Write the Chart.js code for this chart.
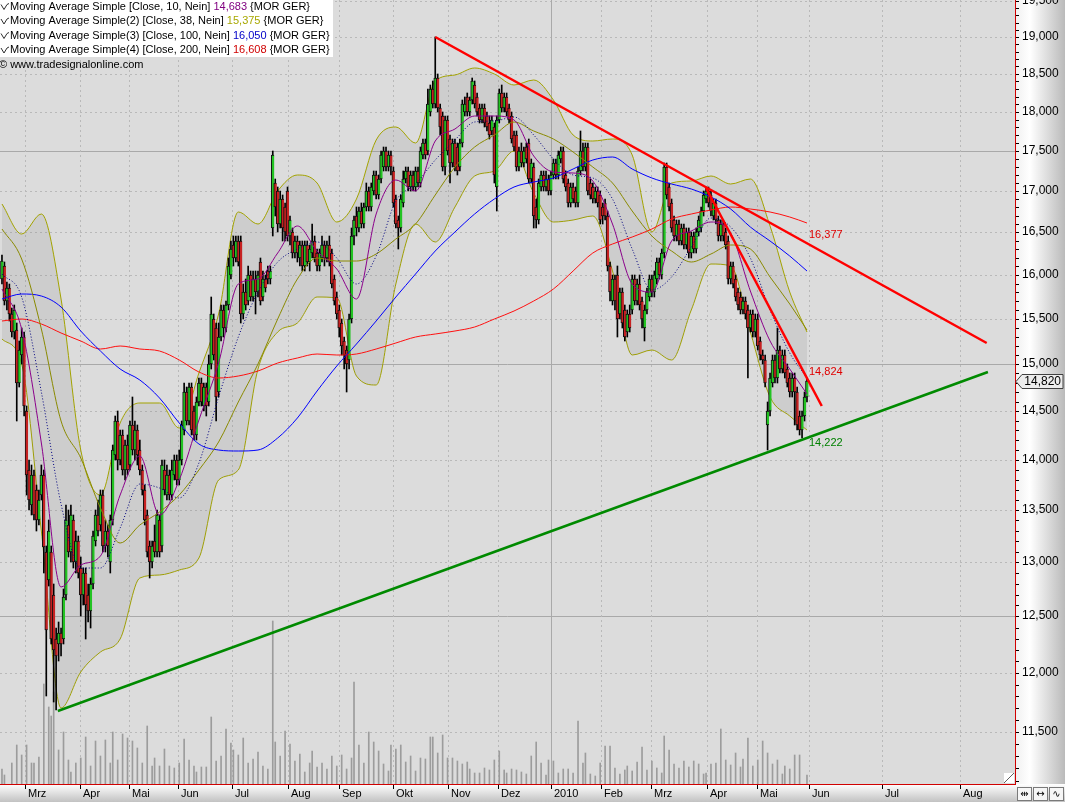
<!DOCTYPE html>
<html><head><meta charset="utf-8">
<script src="https://cdn.jsdelivr.net/npm/chart.js@4.4.1/dist/chart.umd.min.js"></script>
<style>html,body{margin:0;padding:0;background:#fff;}canvas{display:block;}</style>
</head><body>
<canvas id="c" width="1065" height="802" style="width:1065px;height:802px"></canvas>
<script>
// ---- daily candles (trading-day index 0..327) ----
const openP = [
15950,16100,15700,15850,15550,15350,15380,14800,15100,15300,
14500,13900,13550,13850,13700,13400,13650,13850,13100,12830,
13100,12700,12300,12250,12350,12300,12700,13350,13100,13400,
13000,13200,12950,12700,12900,12700,12550,12800,13200,13450,
13350,13650,13150,13300,13000,13400,14050,14400,14000,14250,
13900,14150,13950,14350,14100,14300,14100,13900,13700,13450,
13150,13000,13200,13100,13400,13150,13900,13650,13850,13650,
13850,14000,13800,14000,14300,14700,14400,14750,14500,14250,
14600,14800,14550,14750,14600,15000,15500,15400,14700,15300,
15600,15400,15650,16000,16350,16200,16400,16400,15550,15800,
15700,16000,15750,15950,15800,16150,15750,15950,16050,15950,
16550,17100,17000,16600,16900,16800,17000,16450,16500,16250,
16400,16200,16350,16100,16350,16150,16250,16400,16250,16100,
16200,16350,16200,16350,16250,15950,15750,15600,15450,15250,
15150,15050,15500,16450,16700,16550,16750,16600,16800,17000,
16800,17000,17200,16950,17150,17300,17500,17300,17450,17250,
16900,16650,16550,16850,17150,17250,17050,17200,17050,17250,
17100,17450,17600,17500,18000,18300,18100,18450,18050,17950,
17300,17900,17650,17350,17600,17550,17300,17600,18000,18200,
18000,18150,18350,18200,18050,17900,18050,17950,17850,17750,
17800,17050,17900,18250,18050,18200,18050,17950,17700,17700,
17300,17500,17350,17550,17600,17150,17300,16800,16650,17050,
17200,17050,17150,17000,17200,17350,17200,17400,17500,17200,
17100,16850,17050,17000,16850,17250,17500,17300,17550,17100,
17050,16900,17000,16950,16800,16850,16700,16100,15700,15950,
16000,15550,15800,15600,15350,15550,15600,15950,15700,15900,
15700,15400,15600,15750,15950,15800,15950,16150,16000,16250,
17300,17050,16850,16650,16450,16600,16400,16550,16350,16500,
16250,16450,16300,16500,16550,16750,16900,17000,16950,16700,
16850,16650,16450,16600,16500,16400,15950,16100,15950,15800,
15750,15600,15700,15600,15400,15550,15350,15500,15250,15100,
15050,14350,14500,14800,15050,14850,15150,14950,15100,14950,
14850,14700,14850,14700,14450,14300,14450,14650];
const highP = [
16230,16150,15920,15900,15620,15650,15450,15250,15400,15350,
14550,14000,13950,13900,13750,13700,13950,13900,13150,13400,
13150,12800,12400,12450,12400,12750,13550,13500,13550,13450,
13300,13250,13050,12950,12950,12800,12850,13300,13500,13600,
13700,13700,13400,13350,13450,14150,14450,14500,14300,14300,
14200,14250,14400,14650,14400,14350,14200,13950,13750,13500,
13200,13200,13350,13500,13450,14000,14000,13950,13900,14000,
14050,14050,14100,14400,14800,14750,14800,14800,14550,14650,
14850,14850,14800,14800,15100,15750,15550,15450,15450,15650,
15650,15700,16200,16400,16450,16450,16450,16450,15900,15950,
16100,16050,16050,16050,16050,16200,16050,16000,16100,16100,
17500,17150,17050,17000,16950,16850,17050,16700,16550,16450,
16450,16400,16400,16400,16400,16350,16600,16450,16300,16300,
16450,16400,16400,16450,16300,16000,15800,15650,15500,15300,
15200,15550,16550,16700,16800,16800,16850,16850,17100,17050,
17100,17250,17250,17200,17500,17550,17550,17500,17500,17300,
16950,16700,16950,17250,17300,17300,17250,17250,17300,17300,
17550,17650,17650,18300,18350,18400,19000,18500,18100,18000,
17950,17950,17700,17650,17650,17600,17650,18150,18200,18250,
18200,18450,18400,18250,18100,18100,18100,18000,17950,17950,
17850,17950,18300,18350,18250,18250,18100,18000,17750,17750,
17550,17600,17550,17600,17650,17400,17350,16900,17150,17250,
17250,17250,17200,17250,17400,17400,17500,17550,17550,17250,
17150,17100,17100,17050,17300,17750,17600,17600,17600,17150,
17100,17050,17050,17000,16850,16900,16750,16150,16000,16000,
16100,15850,15850,15650,15600,15650,16000,16000,15950,16000,
15750,15650,15850,16000,16000,16050,16200,16200,16300,17350,
17350,17100,16900,16700,16650,16650,16600,16600,16550,16550,
16500,16500,16550,16700,16800,17000,17050,17050,17000,16900,
16900,16700,16650,16650,16550,16450,16150,16150,16000,15850,
15800,15750,15750,15650,15600,15600,15550,15550,15300,15150,
15100,14600,14900,15100,15100,15400,15200,15150,15150,15000,
14900,14900,14900,14750,14500,14500,14700,14850];
const lowP = [
15900,15650,15600,15480,15300,15280,14400,14750,15000,14450,
13650,13500,13450,13400,13300,13350,13600,12900,11800,12780,
12250,11750,11680,12100,12150,12250,12650,13050,13000,12950,
12900,12850,12500,12600,12300,12450,12400,12750,13150,13250,
13300,13100,13100,13050,12900,13350,14000,13900,13950,13850,
13800,13850,13900,14050,14000,13950,13850,13650,13350,13050,
12850,12950,13050,13050,13050,13100,13650,13600,13600,13600,
13800,13750,13750,13950,14250,14350,14350,14250,14200,14200,
14550,14550,14500,14450,14550,14950,15050,14400,14650,15250,
15300,15350,15600,15950,16100,16150,16100,15450,15500,15600,
15650,15700,15700,15550,15750,15650,15700,15800,15900,15900,
16450,16700,16500,16550,16400,16400,16400,16350,16200,16200,
16150,16100,16050,16050,16100,16050,16200,16150,16050,16050,
16150,16100,16150,16100,15850,15650,15500,15300,15100,14950,
14700,14950,15450,16350,16450,16500,16550,16550,16750,16750,
16750,16950,16900,16900,17100,17250,17250,17250,17200,16800,
16550,16300,16500,16800,17100,17000,17000,17000,17000,17050,
17050,17400,17400,17450,17950,18050,18050,18000,17700,17250,
17200,17450,17100,17300,17250,17200,17250,17550,17950,17950,
17950,18100,18050,17950,17850,17850,17800,17750,17650,17700,
17100,16750,17850,18000,18000,17950,17850,17600,17500,17250,
17250,17300,17300,17350,17100,17100,16550,16550,16600,17000,
17000,17000,16950,16950,17150,17150,17150,17350,17100,17000,
16800,16800,16850,16800,16800,17200,17250,17250,16950,16900,
16850,16850,16800,16600,16600,16650,16050,15700,15650,15600,
15300,15500,15400,15250,15300,15350,15550,15650,15650,15600,
15400,15250,15550,15700,15750,15750,15900,15950,15950,16200,
16900,16750,16500,16400,16400,16350,16350,16300,16300,16200,
16200,16250,16250,16450,16500,16700,16850,16800,16700,16650,
16600,16400,16400,16400,16300,15900,15900,15850,15700,15600,
15550,15550,15500,14850,15350,15300,15300,15150,15050,15000,
14750,14100,14450,14750,14800,14800,14900,14900,14850,14750,
14650,14650,14350,14300,14250,14220,14400,14600];
const closeP = [
16160,15700,15850,15550,15350,15600,14800,15150,15300,14550,
13850,13600,13850,13450,13400,13600,13850,13140,12380,13300,
12300,12200,12150,12350,12250,12680,13400,13100,13450,13000,
13200,12900,12700,12900,12600,12550,12800,13250,13450,13300,
13650,13150,13300,13150,13400,14100,14400,14000,14250,13900,
14150,13900,14350,14100,14300,14050,13900,13700,13400,13100,
13000,13150,13100,13450,13100,13950,13700,13850,13650,13900,
14000,13800,14000,14350,14700,14400,14750,14300,14250,14600,
14800,14600,14750,14550,15000,15550,15100,14650,15300,15600,
15400,15650,16100,16300,16200,16400,16150,15550,15800,15650,
16000,15750,15950,15800,16000,15700,15950,15850,15950,16050,
17450,16800,16600,16900,16550,16500,16450,16650,16250,16400,
16250,16350,16100,16350,16150,16300,16400,16200,16100,16250,
16350,16200,16350,16150,15900,15700,15550,15400,15200,15100,
15000,15500,16450,16650,16550,16750,16600,16800,17000,16800,
17050,17200,16950,17150,17450,17500,17300,17450,17300,16850,
16600,16550,16900,17150,17250,17050,17200,17050,17250,17100,
17500,17600,17450,18100,18300,18100,18450,18050,17800,17300,
17900,17500,17350,17600,17300,17250,17600,18100,18100,18000,
18150,18400,18100,18000,17900,18050,17850,17800,17700,17900,
17200,17900,18250,18050,18200,18000,17900,17650,17550,17300,
17500,17350,17500,17400,17150,17350,16700,16650,17100,17200,
17050,17150,17000,17200,17350,17200,17450,17500,17150,17050,
16850,17050,16900,16850,17250,17500,17300,17550,17000,16950,
16900,17000,16850,16650,16700,16700,16100,15800,15950,15700,
15500,15800,15450,15300,15550,15400,15950,15700,15900,15650,
15500,15600,15800,15950,15800,16000,16150,16000,16250,17300,
16950,16800,16550,16450,16600,16400,16550,16350,16500,16250,
16450,16300,16500,16650,16750,16950,17000,16850,16750,16850,
16650,16450,16600,16450,16350,15950,16100,15900,15750,15650,
15600,15700,15550,15400,15550,15350,15500,15200,15100,15050,
14800,14500,14850,15050,14850,15150,14950,15100,14900,14800,
14700,14850,14700,14350,14300,14450,14650,14820];

// ---- volume bars visible in the picture: [trading-day index, volume (thousands)] ----
const volume = [[0,150],[1,90],[4,210],[6,390],[8,290],[10,390],[12,210],[13,210],[15,270],[17,1000],[19,770],[20,680],[21,920],[23,340],[25,520],[27,240],[28,120],[30,210],[32,260],[34,470],[36,180],[38,430],[40,280],[42,440],[44,210],[45,520],[47,240],[49,500],[51,460],[53,430],[55,360],[57,210],[59,580],[61,180],[62,260],[64,180],[66,350],[68,180],[70,160],[72,210],[74,450],[76,240],[78,180],[79,120],[81,170],[83,170],[85,670],[87,230],[89,280],[91,550],[93,410],[94,340],[96,290],[98,460],[100,210],[102,250],[104,320],[106,180],[108,150],[110,1630],[111,420],[113,280],[115,530],[117,400],[119,230],[121,300],[123,120],[125,210],[126,330],[128,170],[130,210],[132,150],[134,280],[136,180],[138,290],[140,150],[142,260],[143,1020],[145,390],[147,210],[149,520],[151,420],[153,330],[155,200],[157,130],[158,390],[160,350],[162,390],[164,220],[166,280],[168,130],[170,260],[172,250],[174,470],[175,470],[177,310],[179,490],[181,260],[183,260],[185,230],[187,200],[189,220],[190,150],[192,110],[194,110],[196,160],[198,140],[200,240],[202,330],[204,140],[205,110],[207,150],[209,140],[211,120],[213,100],[215,280],[217,420],[219,210],[221,90],[222,240],[224,230],[226,110],[228,150],[230,150],[232,110],[234,630],[236,210],[237,310],[239,100],[241,80],[243,210],[245,380],[247,380],[249,160],[251,100],[253,140],[254,180],[256,130],[258,220],[260,370],[262,140],[264,230],[266,160],[268,110],[269,480],[271,340],[273,200],[275,160],[277,230],[279,170],[281,230],[283,200],[285,100],[286,110],[288,200],[290,210],[292,550],[294,240],[296,190],[298,310],[300,170],[301,250],[303,460],[305,180],[307,240],[309,430],[311,310],[313,200],[315,240],[317,100],[318,180],[320,150],[322,290],[324,290],[327,90]];

// ---- indicator lines, read every 8 trading days ----
const maIdx = [0,8,16,24,32,40,48,56,64,72,80,88,96,104,112,120,128,136,144,152,160,168,176,184,192,200,208,216,224,232,240,248,256,264,272,280,288,296,304,312,320,327];
const ma10 = [15840,15390,14170,12765,12975,13060,13645,14040,13455,13800,14405,15010,15900,15950,16250,16580,16280,16070,15725,16720,17130,16995,17630,17780,17950,17940,17900,17430,17230,17220,17120,16600,15895,15800,16400,16520,16620,16490,15820,15250,14950,14683];
const ma38 = [16540,16180,15390,14400,14016,13520,13185,13350,13480,13650,13900,14180,14600,15000,15500,15950,16200,16160,16160,16240,16420,16600,16950,17300,17550,17700,17870,17750,17650,17480,17300,17100,16750,16450,16280,16150,16240,16350,16300,15980,15670,15375];
const ma100 = [15725,15780,15760,15635,15360,15140,14950,14825,14635,14375,14160,14100,14090,14100,14220,14425,14710,14975,15225,15480,15750,16010,16280,16500,16720,16900,17050,17110,17160,17270,17380,17420,17270,17160,17080,17020,16920,16780,16560,16400,16220,16050];
const ma200 = [15480,15500,15445,15345,15250,15170,15200,15170,15140,15040,14910,14846,14870,14925,15010,15070,15115,15105,15115,15170,15235,15300,15335,15360,15410,15500,15590,15700,15840,16045,16255,16360,16440,16540,16655,16715,16765,16800,16775,16740,16680,16608];
const bandMid = [16010,15750,14700,13560,12950,12950,13330,13760,13720,13620,13970,14650,15300,15800,16150,16300,16390,16200,15900,16215,16880,17080,17390,17640,17870,17880,17930,17700,17400,17200,17160,16900,16300,15830,15980,16320,16670,16560,16200,15600,15120,14850];
const bandUpper = [16837,16480,16720,15725,14100,13645,14375,14580,14580,14320,14900,15550,16740,16600,17000,17200,17100,16620,16900,17640,17800,17600,18400,18480,18580,18500,18350,18420,18150,17700,17620,17650,17450,16500,17100,17120,17180,17080,17150,16580,15800,15350];
const bandLower = [15279,15005,13300,11700,12010,12180,12300,12850,12880,12930,13044,13800,13900,14950,15350,15450,15750,15740,14870,14780,15900,16600,16380,16800,17180,17250,17500,16980,16620,16650,16700,16050,15100,15150,15050,15600,16130,16100,15350,14650,14450,14300];

// ---- trend lines: [trading-day index, price] ----
const trendTop = [[176,19000],[400,15230]];
const trendSteep = [[286,17040],[333,14550]];
const trendSupport = [[22.7,11676],[400.5,14911]];
const trendValues = [16377, 14824, 14222];

// ---- axes ----
const monthTicks = [9.5,31.5,51.5,71.5,93.5,116,137,159,181,201.5,223,243.5,263.5,286.5,306.5,328,357.5,389];
const monthLabels = ['Mrz','Apr','Mai','Jun','Jul','Aug','Sep','Okt','Nov','Dez','2010','Feb','Mrz','Apr','Mai','Jun','Jul','Aug'];
const priceLabels = [11500,12000,12500,13000,13500,14000,14500,15000,15500,16000,16500,17000,17500,18000,18500,19000,19500];
const solidLevels = [12500,15000,17500];

const fmt = v => Math.round(v).toLocaleString('en-US');
const minorTicks = [];
for (let v = 11100; v <= 19500; v += 100) minorTicks.push(v);

const series = arr => maIdx.map((x,k)=>({x, y:arr[k]}));
const seg = pts => pts.map(p=>({x:p[0], y:p[1]}));
const lastIdx = closeP.length - 1;

const GREEN = '#22c322', RED = '#c62121';
const line = {type:'line', pointRadius:0, borderWidth:1, fill:false, cubicInterpolationMode:'monotone', xAxisID:'x', yAxisID:'y'};

const decor = {
  id:'decor',
  beforeDraw(chart){
    const {ctx, chartArea:a, width, height} = chart;
    ctx.save();
    ctx.fillStyle = '#dcdcdc'; ctx.fillRect(0,0,width,height);
    let g = ctx.createLinearGradient(a.right,0,width,0);
    g.addColorStop(0,'#f0f0f0'); g.addColorStop(0.3,'#ffffff'); g.addColorStop(1,'#bababa');
    ctx.fillStyle = g; ctx.fillRect(a.right,0,width-a.right,height);
    g = ctx.createLinearGradient(0,a.bottom,0,height);
    g.addColorStop(0,'#ffffff'); g.addColorStop(1,'#c2c2c2');
    ctx.fillStyle = g; ctx.fillRect(0,a.bottom,width,height-a.bottom);
    ctx.restore();
  },
  beforeDatasetsDraw(chart){
    const {ctx, chartArea:a, scales} = chart;
    const x = scales.x, y = scales.y;
    ctx.save();
    ctx.lineWidth = 1;
    priceLabels.forEach(v=>{
      const py = Math.round(y.getPixelForValue(v)) + 0.5;
      if (solidLevels.includes(v)) { ctx.setLineDash([]); ctx.strokeStyle = '#a9a9a9'; }
      else { ctx.setLineDash([2,3]); ctx.strokeStyle = '#b9b9b9'; }
      ctx.beginPath(); ctx.moveTo(a.left, py); ctx.lineTo(a.right, py); ctx.stroke();
    });
    monthTicks.forEach((t,k)=>{
      const px = Math.round(x.getPixelForValue(t)) + 0.5;
      if (monthLabels[k] === '2010') { ctx.setLineDash([]); ctx.strokeStyle = '#a9a9a9'; }
      else { ctx.setLineDash([2,3]); ctx.strokeStyle = '#b9b9b9'; }
      ctx.beginPath(); ctx.moveTo(px, a.top); ctx.lineTo(px, a.bottom); ctx.stroke();
    });
    ctx.restore();
  },
  afterDraw(chart){
    const {ctx, chartArea:a, scales, width, height} = chart;
    const x = scales.x, y = scales.y;
    ctx.save();
    // trend line value labels
    ctx.font = '11px "Liberation Sans", Arial, sans-serif';
    ctx.textBaseline = 'middle'; ctx.textAlign = 'left';
    const lx = x.getPixelForValue(lastIdx) + 2;
    const offs = [-8,-8,5];
    const cols = ['#e00000','#e00000','#008000'];
    trendValues.forEach((v,k)=>{
      ctx.fillStyle = cols[k];
      ctx.fillText(fmt(v), lx, y.getPixelForValue(v) + offs[k]);
    });
    // axis frame lines
    ctx.strokeStyle = '#d00000'; ctx.lineWidth = 1;
    ctx.beginPath(); ctx.moveTo(a.right+0.5, 0); ctx.lineTo(a.right+0.5, a.bottom+1); ctx.stroke();
    ctx.beginPath(); ctx.moveTo(0, a.bottom+0.5); ctx.lineTo(a.right+1, a.bottom+0.5); ctx.stroke();
    // month ticks + labels
    ctx.fillStyle = '#000';
    monthTicks.forEach((t,k)=>{
      const px = Math.round(x.getPixelForValue(t));
      ctx.fillRect(px, a.bottom+1, 1, 4);
      ctx.fillText(monthLabels[k], px+3, a.bottom+10);
    });
    // last price box on the axis
    const last = closeP[lastIdx];
    const py = Math.round(y.getPixelForValue(last)) + 0.5;
    ctx.beginPath();
    ctx.moveTo(a.right+1, py); ctx.lineTo(a.right+7, py-7); ctx.lineTo(width-2, py-7);
    ctx.lineTo(width-2, py+7); ctx.lineTo(a.right+7, py+7); ctx.closePath();
    ctx.fillStyle = '#ececec'; ctx.fill();
    ctx.strokeStyle = '#404040'; ctx.stroke();
    ctx.fillStyle = '#000'; ctx.textAlign = 'right';
    ctx.font = '12px "Liberation Sans", Arial, sans-serif';
    ctx.fillText(fmt(last), width-4, py+0.5);
    // resize corner
    ctx.fillStyle = '#ffffff'; ctx.fillRect(a.right-11, a.bottom-11, 10, 10);
    ctx.strokeStyle = '#606060';
    ctx.beginPath(); ctx.moveTo(a.right-11, a.bottom-1); ctx.lineTo(a.right-1, a.bottom-11); ctx.stroke();
    // bottom-right toolbar icons
    const glyphs = ['\u21F9','\u2194','\u223F'];
    ctx.font = '10px "DejaVu Sans", sans-serif'; ctx.textAlign = 'center';
    glyphs.forEach((gph,k)=>{
      const bx = a.right + 2 + k*16;
      ctx.fillStyle = '#f6f6f6'; ctx.fillRect(bx+0.5, a.bottom+3.5, 14, 13);
      ctx.strokeStyle = '#7a7a7a'; ctx.strokeRect(bx+0.5, a.bottom+3.5, 14, 13);
      ctx.fillStyle = '#000'; ctx.fillText(gph, bx+7.5, a.bottom+10.5);
    });
    // legend
    const rows = [
      ['Moving Average Simple [Close, 10, Nein] ', ma10[ma10.length-1], '#800080'],
      ['Moving Average Simple(2) [Close, 38, Nein] ', ma38[ma38.length-1], '#a8a800'],
      ['Moving Average Simple(3) [Close, 100, Nein] ', ma100[ma100.length-1], '#0000c8'],
      ['Moving Average Simple(4) [Close, 200, Nein] ', ma200[ma200.length-1], '#d00000']
    ];
    ctx.font = '11px "Liberation Sans", Arial, sans-serif';
    let maxW = 0;
    rows.forEach(r=>{ maxW = Math.max(maxW, ctx.measureText(r[0] + fmt(r[1]) + ' {MOR GER}').width); });
    ctx.fillStyle = '#ffffff'; ctx.fillRect(0, 0, Math.ceil(10 + maxW + 3), 57);
    ctx.textAlign = 'left'; ctx.textBaseline = 'middle';
    rows.forEach((r,k)=>{
      const ry = 6.5 + k*14.5;
      ctx.strokeStyle = '#303030'; ctx.lineWidth = 1;
      ctx.beginPath(); ctx.moveTo(1, ry-2); ctx.lineTo(4, ry+3); ctx.lineTo(7, ry-2); ctx.lineTo(9, ry-3); ctx.stroke();
      let tx = 10;
      ctx.fillStyle = '#000'; ctx.fillText(r[0], tx, ry); tx += ctx.measureText(r[0]).width;
      const vs = fmt(r[1]);
      ctx.fillStyle = r[2]; ctx.fillText(vs, tx, ry); tx += ctx.measureText(vs).width;
      ctx.fillStyle = '#000'; ctx.fillText(' {MOR GER}', tx, ry);
    });
    ctx.fillStyle = '#000';
    ctx.fillText('\u00A9 www.tradesignalonline.com', -1, 65);
    ctx.restore();
  }
};

new Chart(document.getElementById('c'), {
  type: 'bar',
  data: {
    datasets: [
      {...line, data: seg(trendTop), borderColor:'#ff0000', borderWidth:2.5, order:0},
      {...line, data: seg(trendSteep), borderColor:'#ff0000', borderWidth:2.5, order:0},
      {...line, data: seg(trendSupport), borderColor:'#008a00', borderWidth:2.5, order:0},
      {...line, data: series(ma10), borderColor:'#8b008b', order:1},
      {...line, data: series(bandMid), borderColor:'#000080', borderDash:[1,2], order:1},
      {...line, data: series(ma38), borderColor:'#8a8a00', order:1},
      {...line, data: series(ma100), borderColor:'#0000ff', order:1},
      {...line, data: series(ma200), borderColor:'#ff1010', order:1},
      {type:'bar', data: openP.map((o,i)=>({x:i, y:[o, closeP[i]]})),
        backgroundColor: c => (closeP[c.dataIndex] >= openP[c.dataIndex] ? GREEN : RED),
        borderColor:'#101010', borderWidth:{left:1,right:0,top:1,bottom:1}, borderSkipped:false,
        barThickness:3, grouped:false, order:2, xAxisID:'x', yAxisID:'y'},
      {type:'bar', data: highP.map((h,i)=>({x:i, y:[lowP[i], h]})),
        backgroundColor:'#000', barThickness:1, grouped:false, order:3, xAxisID:'x', yAxisID:'y'},
      {type:'bar', data: volume.map(p=>({x:p[0], y:p[1]})),
        backgroundColor:'#9c9c9c', barThickness:1, grouped:false, order:4, xAxisID:'x', yAxisID:'yv'},
      {...line, data: series(bandUpper), borderColor:'#a3a300', fill:'+1', backgroundColor:'rgba(110,110,110,0.13)', order:5},
      {...line, data: series(bandLower), borderColor:'#a3a300', order:5}
    ]
  },
  options: {
    responsive:false, animation:false, devicePixelRatio:1, events:[],
    layout:{padding:0},
    plugins:{legend:{display:false}, tooltip:{enabled:false}},
    scales:{
      x:{type:'linear', min:-0.8, max:411.5, bounds:'data', offset:false,
        afterBuildTicks: s => { s.ticks = monthTicks.map(v=>({value:v})); },
        afterFit: s => { s.height = 18; s.paddingLeft = 0; s.paddingRight = 0; },
        ticks:{display:false}, grid:{display:false}, border:{display:false}},
      y:{type:'logarithmic', position:'right', min:11075, max:19515, bounds:'data', alignToPixels:true,
        afterBuildTicks: s => { s.ticks = minorTicks.map(v=>({value:v})); },
        afterFit: s => { s.width = 50; s.paddingTop = 0; s.paddingBottom = 0; },
        ticks:{autoSkip:false, padding:3, color:'#000', font:{family:'"Liberation Sans", Arial, sans-serif', size:12},
          callback: v => (priceLabels.includes(v) ? fmt(v) : '')},
        grid:{drawOnChartArea:false, drawTicks:true, tickLength:4, tickColor:'#000', color:'#000'},
        border:{display:false}},
      yv:{type:'linear', min:0, max:7840, display:false}
    }
  },
  plugins:[decor]
});
</script>
</body></html>
